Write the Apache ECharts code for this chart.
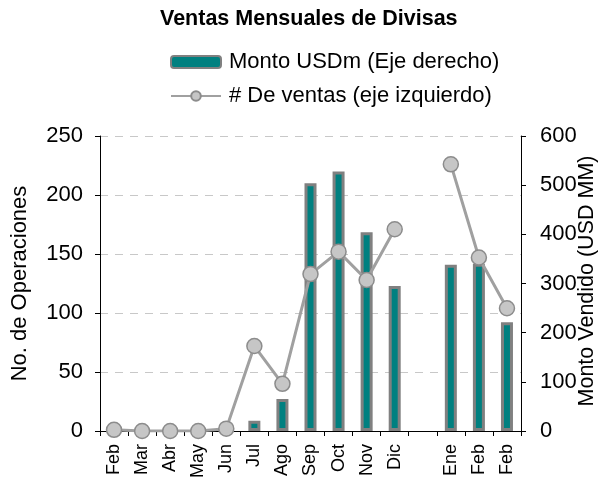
<!DOCTYPE html>
<html><head><meta charset="utf-8">
<script src="https://cdn.jsdelivr.net/npm/echarts@6/dist/echarts.min.js"></script>
<style>html,body{margin:0;padding:0;background:#fff}#c{width:598px;height:483px}</style>
</head><body><div id="c"></div>
<script>
var categories = ['Feb','Mar','Abr','May','Jun','Jul','Ago','Sep','Oct','Nov','Dic','','Ene','Feb','Feb'];
var montoUSD = [null,null,null,null,null,21,65,504,528,404,295,null,338,340,221];
var numVentas = [1,0,0,0,2,72,40,133,152,128,171,null,226,147,104];
var leftTicks = {min:0,max:250,interval:50};
var rightTicks = {min:0,max:600,interval:100};
var FONT = 'Liberation Sans, Arial, sans-serif';
var chart = echarts.init(document.getElementById('c'));
chart.setOption({
  animation:false,
  title:{text:'Ventas Mensuales de Divisas',left:155,top:3,textStyle:{fontFamily:FONT,fontSize:21.5,fontWeight:'bold',color:'#000'}},
  legend:{orient:'vertical',left:165,top:46,itemWidth:50,itemHeight:12,itemGap:12,
    textStyle:{fontFamily:FONT,fontSize:22,color:'#000',padding:[0,0,0,3]},
    data:['Monto USDm (Eje derecho)','# De ventas (eje izquierdo)']},
  grid:{left:100,right:77,top:136,bottom:52,containLabel:false},
  xAxis:{type:'category',data:categories,boundaryGap:true,
    axisLine:{lineStyle:{color:'#000',width:1}},
    axisTick:{show:true,interval:0,inside:false,length:5,lineStyle:{color:'#000'}},
    axisLabel:{interval:0,rotate:90,fontFamily:FONT,fontSize:18,color:'#000',margin:13}},
  yAxis:[
    {type:'value',min:leftTicks.min,max:leftTicks.max,interval:leftTicks.interval,position:'left',
     name:'No. de Operaciones',nameLocation:'middle',nameGap:69,
     nameTextStyle:{fontFamily:FONT,fontSize:22,color:'#000'},
     axisLine:{show:true,lineStyle:{color:'#000'}},
     axisTick:{show:true,length:5,lineStyle:{color:'#000'}},
     axisLabel:{fontFamily:FONT,fontSize:22,color:'#000',margin:17},
     splitLine:{show:true,lineStyle:{color:'#c8c8c8',type:[8,7],width:1}}},
    {type:'value',min:rightTicks.min,max:rightTicks.max,interval:rightTicks.interval,position:'right',
     axisLine:{show:true,lineStyle:{color:'#000'}},
     axisTick:{show:true,length:5,lineStyle:{color:'#000'}},
     axisLabel:{fontFamily:FONT,fontSize:22,color:'#000',margin:19},
     splitLine:{show:false}}
  ],
  graphic:[{type:'text',x:587,y:281,rotation:Math.PI/2,
    style:{text:'Monto Vendido (USD MM)',fontFamily:FONT,fontSize:21.5,fill:'#000',align:'center',verticalAlign:'middle'}}],
  series:[
    {name:'Monto USDm (Eje derecho)',type:'bar',yAxisIndex:1,data:montoUSD,barWidth:12,
     itemStyle:{color:'#008080',borderColor:'#808080',borderWidth:3}},
    {name:'# De ventas (eje izquierdo)',type:'line',yAxisIndex:0,data:numVentas,connectNulls:false,
     symbol:'circle',symbolSize:15,
     lineStyle:{color:'#a0a0a0',width:3},
     itemStyle:{color:'#c6c6c6',borderColor:'#8c8c8c',borderWidth:1.5}}
  ]
});
</script></body></html>
